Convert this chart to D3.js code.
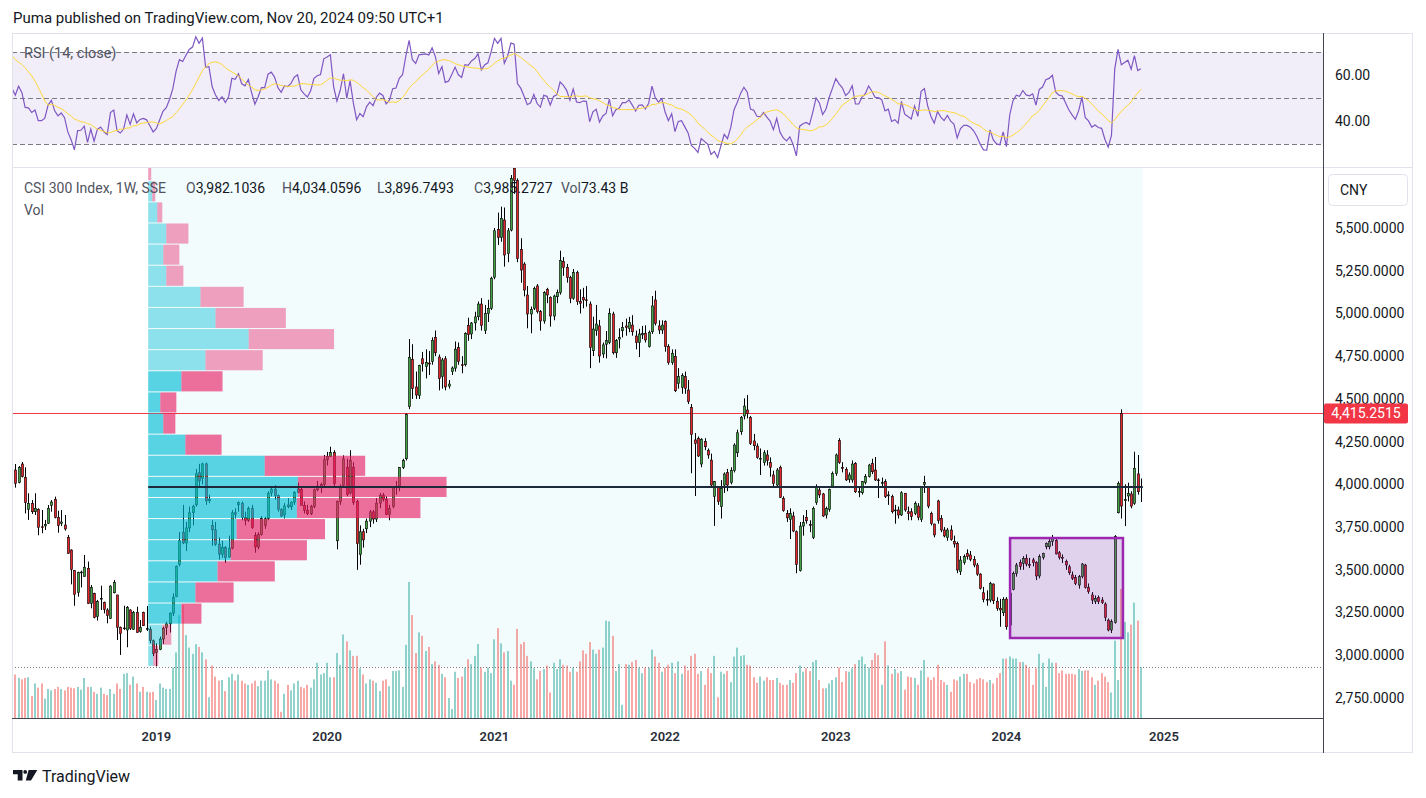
<!DOCTYPE html>
<html>
<head>
<meta charset="utf-8">
<script src="https://d3js.org/d3.v7.min.js"></script>
<style>
body { margin: 0; background: #fff; }
svg text { font-family: Roboto, "Noto Sans", sans-serif; }
</style>
</head>
<body>
<svg id="chart" width="1426" height="798"></svg>
<script>
// weekly CSI 300 bars, Feb 26 2018 .. Nov 18 2024 (holiday weeks without trading have no bar)
var opens = [
4084,4012,4119,4041,3854,3889,3840,3854,3752,3757,
3772,3877,3912,3807,3772,3762,3690,3616,3495,3368,
3485,3460,3509,3304,3362,3226,3330,3310,3265,3216,
3366,3353,3164,3158,3148,3265,3152,3251,3138,3251,
3154,3150,3085,3017,3035,3095,3163,3184,3247,3345,
3530,3720,3657,3745,3834,3880,4068,4034,4120,3904,
3760,3734,3650,3590,3630,3575,3627,3834,3880,3890,
3805,3790,3858,3700,3634,3706,3760,3800,3950,3972,
3935,3853,3820,3880,3869,3896,3952,3970,3877,3849,
3828,3871,3968,3990,4000,4144,4163,4186,3670,3899,
3995,4100,3950,4100,3900,3590,3723,3740,3785,3839,
3797,3890,3937,3913,3824,3870,3981,3990,4098,4150,
4455,4732,4570,4520,4735,4690,4710,4720,4860,4745,
4630,4735,4575,4660,4680,4800,4700,4700,4930,4880,
4945,4981,5055,4900,5000,5030,5212,5492,5445,5547,
5350,5488,5850,5777,5375,5289,5108,4997,5030,5161,
5011,4956,5141,5094,4985,5098,5122,5303,5270,5211,
5089,5239,5069,5094,5080,5055,4782,4900,4927,4763,
4820,4829,4997,4770,4850,4899,4927,4913,4932,4868,
4829,4875,4884,4806,4893,5079,4927,4903,4952,4806,
4712,4747,4591,4568,4630,4552,4451,4260,4269,4119,
4250,4197,4142,3930,3986,3870,3996,4069,4010,4080,
4185,4308,4400,4435,4392,4254,4224,4150,4127,4172,
4127,4055,3996,4100,3918,3830,3795,3815,3723,3495,
3756,3807,3765,3690,3893,3967,3944,3821,3854,3990,
4064,4256,4100,4088,4029,4026,4123,3957,3951,4010,
4045,4123,4084,4026,4010,4016,3933,3928,3850,3850,
3821,3947,3840,3840,3830,3873,3795,4000,3986,3830,
3768,3903,3801,3733,3690,3733,3665,3655,3489,3542,
3596,3587,3561,3528,3475,3366,3327,3323,3417,3316,
3275,3249,3329,3176,3386,3479,3542,3538,3567,3530,
3558,3542,3464,3573,3635,3635,3665,3671,3600,3573,
3548,3518,3470,3456,3411,3460,3528,3398,3353,3315,
3339,3323,3300,3206,3148,3191,3834,4415.2515,3905,3932,
3944,3889,4061,3982.1036];
var highs = [
4119,4107,4131,4100,3948,3908,3948,3860,3850,3792,
3879,3908,3928,3846,3850,3821,3704,3620,3499,3489,
3495,3587,3548,3411,3366,3324,3407,3314,3275,3409,
3440,3353,3168,3290,3288,3269,3259,3284,3206,3255,
3288,3167,3092,3070,3109,3167,3197,3250,3362,3525,
3721,3880,3780,3870,3880,4090,4120,4127,4127,3940,
3790,3780,3690,3670,3640,3700,3850,3860,3900,3900,
3840,3870,3880,3720,3720,3815,3810,3960,3990,3995,
3940,3860,3890,3920,3900,3960,4010,3980,3900,3880,
3880,3975,4020,4010,4172,4190,4220,4200,3905,4000,
4170,4150,4200,4130,3910,3760,3740,3800,3850,3850,
3920,3950,3950,3930,3880,3990,4020,4100,4150,4415,
4850,4820,4660,4700,4775,4790,4780,4860,4900,4760,
4740,4750,4610,4690,4836,4830,4750,4890,4975,4950,
5010,5070,5090,5050,5080,5215,5500,5590,5625,5620,
5500,5810,5900,5790,5440,5300,5161,5040,5157,5172,
5020,5130,5150,5100,5110,5140,5367,5330,5290,5220,
5260,5250,5141,5150,5160,5070,4981,5050,4962,4830,
4897,5030,5010,4850,4913,4950,4970,4980,4990,4900,
4910,4927,4930,4900,5102,5133,4960,4960,4960,4820,
4790,4790,4680,4650,4660,4610,4470,4300,4280,4270,
4270,4210,4180,4020,3990,4025,4070,4090,4100,4240,
4320,4400,4503,4523,4400,4295,4240,4210,4200,4200,
4158,4080,4095,4110,3930,3850,3860,3840,3730,3780,
3820,3850,3790,3870,4000,3990,3950,3870,3975,4075,
4180,4270,4130,4100,4070,4140,4130,3990,4020,4060,
4120,4150,4160,4035,4040,4030,3960,3940,3880,3870,
3960,3950,3870,3860,3900,3890,3990,4050,3990,3840,
3770,3910,3820,3750,3745,3760,3700,3665,3580,3590,
3620,3610,3580,3540,3480,3400,3380,3430,3420,3340,
3330,3340,3340,3370,3490,3540,3560,3580,3590,3570,
3570,3550,3590,3600,3660,3680,3704,3680,3610,3590,
3560,3530,3490,3470,3470,3540,3535,3420,3370,3350,
3350,3340,3310,3215,3210,3703,4017,4439,4000,4010,
3960,4191,4172,4034.0596];
var lows = [
3981,4006,4040,3830,3792,3827,3821,3702,3714,3733,
3768,3840,3801,3717,3756,3729,3593,3415,3290,3343,
3397,3460,3300,3275,3216,3203,3265,3245,3187,3212,
3362,3089,3002,3148,3047,3148,3148,3132,3132,3171,
3142,3070,2995,2935,3030,3066,3119,3133,3230,3340,
3520,3650,3610,3720,3760,3870,3990,4000,3880,3890,
3640,3640,3560,3570,3540,3570,3620,3800,3840,3790,
3760,3780,3740,3600,3620,3700,3740,3790,3930,3910,
3840,3810,3800,3860,3850,3880,3950,3880,3830,3820,
3820,3860,3960,3950,3990,4110,4160,3990,3620,3880,
3990,3930,3940,3880,3500,3530,3630,3715,3750,3770,
3780,3860,3900,3820,3790,3860,3940,3960,4090,4140,
4440,4500,4500,4500,4660,4620,4640,4700,4750,4550,
4560,4550,4560,4640,4660,4700,4650,4690,4840,4850,
4900,4960,4900,4880,4950,5020,5200,5400,5420,5274,
5300,5480,5700,5300,5180,5100,4913,4884,5020,5000,
4899,4940,5060,4923,4960,5060,5110,5220,5180,5060,
5080,5050,5000,5030,5040,4680,4751,4870,4712,4740,
4737,4820,4760,4740,4796,4860,4870,4890,4870,4790,
4745,4850,4830,4800,4880,4930,4880,4880,4776,4700,
4700,4540,4560,4530,4530,4470,4065,3932,4160,4100,
4200,4150,3990,3757,3880,3800,3950,3960,4000,4070,
4160,4290,4380,4386,4230,4200,4150,4055,4110,4110,
4045,3990,3980,3920,3840,3780,3680,3720,3480,3490,
3700,3770,3720,3680,3880,3920,3810,3800,3840,3980,
4050,4120,4070,4020,4010,4010,3950,3925,3940,4000,
4040,4060,4020,3920,3990,3920,3880,3830,3770,3800,
3815,3840,3790,3790,3820,3790,3780,3950,3860,3760,
3690,3770,3720,3690,3670,3670,3630,3480,3470,3530,
3560,3550,3515,3465,3385,3310,3290,3310,3300,3260,
3167,3230,3150,3105,3380,3460,3500,3500,3520,3510,
3520,3440,3450,3560,3620,3620,3640,3590,3560,3540,
3500,3470,3440,3410,3390,3450,3390,3360,3300,3300,
3300,3300,3200,3140,3130,3185,3830,3800,3756,3900,
3860,3880,3940,3896.7493];
var closes = [
4006,4100,4045,3893,3889,3840,3860,3749,3749,3766,
3860,3897,3807,3760,3780,3739,3597,3503,3357,3485,
3487,3515,3304,3398,3222,3314,3333,3269,3232,3405,
3427,3164,3128,3160,3280,3156,3251,3134,3164,3173,
3156,3088,3011,3035,3095,3158,3184,3247,3338,3520,
3670,3657,3745,3834,3872,4062,4020,4120,3904,3913,
3734,3649,3592,3630,3571,3627,3834,3825,3893,3808,
3790,3858,3747,3634,3706,3800,3799,3948,3972,3935,
3853,3814,3874,3869,3896,3952,3973,3877,3849,3828,
3871,3968,3990,4000,4144,4163,4186,4004,3899,3987,
4149,3940,4139,3895,3653,3723,3675,3785,3839,3797,
3890,3937,3913,3824,3860,3981,3988,4098,4139,4410,
4743,4560,4523,4696,4705,4713,4704,4842,4770,4620,
4728,4570,4587,4681,4791,4720,4695,4882,4876,4944,
4980,5055,4930,5000,5030,5206,5484,5445,5557,5342,
5484,5790,5779,5322,5254,5137,4997,5024,5147,5011,
4956,5122,5108,4985,5102,5122,5309,5270,5211,5089,
5239,5069,5060,5079,5075,4802,4909,4938,4751,4816,
4841,5001,4770,4841,4860,4919,4919,4948,4893,4829,
4880,4883,4845,4890,5044,4942,4903,4932,4806,4712,
4767,4548,4630,4636,4562,4484,4293,4240,4166,4264,
4220,4172,3996,4016,3899,3977,4061,3996,4080,4230,
4302,4392,4458,4416,4240,4226,4158,4152,4185,4139,
4100,4006,4084,3924,3846,3804,3830,3727,3532,3756,
3776,3787,3762,3860,3987,3938,3815,3860,3971,4064,
4172,4127,4093,4026,4055,4119,3957,3958,4016,4045,
4113,4074,4026,4025,4010,3928,3938,3840,3850,3821,
3951,3850,3830,3811,3889,3807,3986,4010,3873,3772,
3704,3788,3733,3698,3733,3678,3651,3499,3557,3577,
3577,3561,3528,3475,3392,3327,3325,3421,3319,3275,
3265,3327,3167,3364,3479,3528,3519,3567,3534,3528,
3542,3464,3577,3596,3655,3665,3690,3593,3573,3568,
3528,3483,3450,3420,3460,3534,3398,3372,3323,3333,
3314,3308,3222,3148,3197,3694,4006,3873,3912,3947,
3873,4094,3957,3985.2727];
// weekly volume, billions
var volumes = [
63,58,56,58,59,32,50,44,50,28,
42,40,42,45,42,40,45,44,43,45,
41,58,45,45,38,35,44,35,33,42,
35,50,42,64,65,48,60,50,38,45,
38,37,38,26,50,44,42,42,73,95,
149,164,120,102,93,107,103,95,85,30,
76,60,54,55,39,59,64,54,63,54,
50,48,50,54,46,54,54,69,56,54,
50,9,35,48,40,50,54,45,43,48,
44,56,80,63,65,80,59,59,94,77,
121,111,98,90,90,72,63,50,56,54,
51,39,54,56,46,68,68,69,45,106,
197,149,94,124,119,97,103,78,82,77,
64,59,29,13,67,58,60,73,85,78,
90,107,73,67,73,65,114,130,108,95,
97,54,48,129,107,110,90,82,72,56,
68,71,76,37,80,71,85,77,76,67,
73,67,82,98,93,110,99,93,99,102,
141,140,119,68,78,19,78,77,81,84,
73,65,73,73,99,89,80,67,73,77,
80,65,82,64,76,69,90,93,64,68,
48,72,65,90,30,67,64,68,52,89,
102,90,91,77,76,59,51,60,54,59,
55,55,58,51,48,48,55,51,65,76,
67,72,68,81,84,55,43,43,50,55,
59,73,52,68,67,72,78,84,89,78,
73,84,94,91,48,111,76,64,71,65,
68,41,60,59,58,48,69,84,59,55,
59,77,55,52,48,38,56,54,60,64,
64,52,50,56,58,56,52,55,50,58,
65,86,86,89,86,86,81,81,77,72,
48,72,93,80,45,86,80,80,65,69,
64,64,64,63,71,68,69,69,59,48,
54,65,60,52,37,112,55,187,139,124,
135,167,141,73.43];
// closes before the first visible bar (only feed the RSI)
var warmupCloses = [3710,3735,3651,3730,3815,3822,3826,3830,3850,3837,
  3910,3930,4019,4024,4085,4100,4055,4006,3982,3980,
  4016,4031,4138,4225,4258,4382,4272,3840,4004,4071];

// fixed range volume profile: 24 rows, bottom to top
var profileUpVol =   [5,14,33,47,69,82,88,148,149,116,37,15,12,33,57,100,67,52,18,15,18,9,4,0];
var profileDownVol = [5,9,20,38,57,76,88,123,148,100,36,12,16,41,57,85,70,43,17,16,22,5,3,3];
var valueAreaRows = [2, 13];
var profileFirstBar = 41, profileLastBar = 343;

var priceTicks = [2750,3000,3250,3500,3750,4000,4250,4500,4750,5000,5250,5500];
var rsiTicks = [40, 60];
var rsiLevels = [30, 50, 70];
var yearTicks = [["2019",43],["2020",95],["2021",146],["2022",198],["2023",250],["2024",302],["2025",350]];
var priceLineValue = 4415.2515;
var zone = {fromBar: 303.1, toBar: 337.5, top: 3686, bottom: 3101};

var N = closes.length;
[opens, highs, lows, volumes].forEach(function(a) {
  if (a.length !== N) throw new Error("length mismatch " + a.length + " vs " + N);
});

var svg = d3.select("#chart");
var pane = {left: 12, right: 1323, top: 168, bottom: 718};
var rsiPane = {top: 33, bottom: 167};

var x = d3.scaleLinear().domain([0, N - 1]).range([15.3, 1141]);
var y = d3.scaleLinear().domain([2750, 5500]).range([698, 228]);
var yRsi = d3.scaleLinear().domain([30, 70]).range([144, 52]);
var yVol = d3.scaleLinear().domain([0, d3.max(volumes)]).range([718, 582]);

var UP = "#43a047", DOWN = "#e5262d";

var defs = svg.append("defs");
defs.append("clipPath").attr("id", "clipMain").append("rect")
  .attr("x", pane.left).attr("y", pane.top).attr("width", pane.right - pane.left).attr("height", pane.bottom - pane.top);
defs.append("clipPath").attr("id", "clipRsi").append("rect")
  .attr("x", pane.left).attr("y", rsiPane.top).attr("width", pane.right - pane.left).attr("height", rsiPane.bottom - rsiPane.top);

// header
svg.append("text").attr("x", 13).attr("y", 23).attr("font-size", 15).attr("fill", "#131722")
  .text("Puma published on TradingView.com, Nov 20, 2024 09:50 UTC+1");

// ---------- RSI pane ----------
var rp = svg.append("g").attr("clip-path", "url(#clipRsi)");
rp.append("rect").attr("x", pane.left).attr("width", pane.right - pane.left)
  .attr("y", yRsi(70)).attr("height", yRsi(30) - yRsi(70)).attr("fill", "rgba(126,87,194,0.1)");
rp.selectAll(".lvl").data(rsiLevels).enter().append("line")
  .attr("x1", pane.left).attr("x2", pane.right)
  .attr("y1", function(d) { return Math.round(yRsi(d)) + 0.5; })
  .attr("y2", function(d) { return Math.round(yRsi(d)) + 0.5; })
  .attr("stroke", "#787b86").attr("stroke-dasharray", "5,3").attr("stroke-width", 1);

var allC = warmupCloses.concat(closes);
var rsiAll = allC.map(function() { return null; });
var ag = 0, al = 0;
for (var k = 1; k < allC.length; k++) {
  var ch = allC[k] - allC[k - 1];
  var g = ch > 0 ? ch : 0, l = ch < 0 ? -ch : 0;
  if (k <= 14) { ag += g / 14; al += l / 14; }
  else { ag = (ag * 13 + g) / 14; al = (al * 13 + l) / 14; }
  if (k >= 14) rsiAll[k] = al === 0 ? 100 : 100 - 100 / (1 + ag / al);
}
var maAll = rsiAll.map(function(v, k) {
  if (k < 27) return null;
  return d3.mean(rsiAll.slice(k - 13, k + 1));
});
var off = warmupCloses.length;
var rsiPts = [], maPts = [];
for (var i = -2; i < N; i++) {
  rsiPts.push([i, rsiAll[i + off]]);
  maPts.push([i, maAll[i + off]]);
}
var rline = d3.line().defined(function(d) { return d[1] != null; })
  .x(function(d) { return x(d[0]); }).y(function(d) { return yRsi(d[1]); });
rp.append("path").datum(rsiPts).attr("d", rline).attr("fill", "none").attr("stroke", "#7e57c2").attr("stroke-width", 1.2);
rp.append("path").datum(maPts).attr("d", rline).attr("fill", "none").attr("stroke", "#fdd835").attr("stroke-width", 1);

svg.append("text").attr("x", 24).attr("y", 58).attr("font-size", 14.5).attr("fill", "#50535e").text("RSI (14, close)");

// ---------- main pane ----------
var mp = svg.append("g").attr("clip-path", "url(#clipMain)");

var profLow = d3.min(lows.slice(profileFirstBar, profileLastBar + 1));
var profHigh = d3.max(highs.slice(profileFirstBar, profileLastBar + 1));
var px0 = x(profileFirstBar - 0.5), px1 = x(profileLastBar + 0.5);

// profile range background
mp.append("rect").attr("x", px0).attr("width", px1 - px0)
  .attr("y", y(profHigh)).attr("height", y(profLow) - y(profHigh))
  .attr("fill", "rgba(0,188,212,0.05)");

// volume
var idx = d3.range(N);
function isUp(i) { return closes[i] >= opens[i]; }
mp.selectAll(".vol").data(idx).enter().append("rect")
  .attr("x", function(i) { return Math.round(x(i)) - 1; })
  .attr("width", 2)
  .attr("y", function(i) { return yVol(volumes[i]); })
  .attr("height", function(i) { return yVol(0) - yVol(volumes[i]); })
  .attr("fill", function(i) { return isUp(i) ? "rgba(38,166,154,0.5)" : "rgba(239,83,80,0.5)"; });

// last volume line
var lastVolY = Math.round(yVol(volumes[N - 1])) + 0.5;
mp.append("line").attr("x1", pane.left).attr("x2", pane.right).attr("y1", lastVolY).attr("y2", lastVolY)
  .attr("stroke", "#787b86").attr("stroke-dasharray", "1,2");

// price line
var plY = Math.round(y(priceLineValue)) + 0.5;
mp.append("line").attr("x1", pane.left).attr("x2", pane.right).attr("y1", plY).attr("y2", plY)
  .attr("stroke", "#f23645").attr("stroke-width", 1);

// candles
mp.selectAll(".wick").data(idx).enter().append("line")
  .attr("x1", function(i) { return Math.round(x(i)) + 0.5; })
  .attr("x2", function(i) { return Math.round(x(i)) + 0.5; })
  .attr("y1", function(i) { return y(highs[i]); })
  .attr("y2", function(i) { return y(lows[i]); })
  .attr("stroke", "#000").attr("stroke-width", 1);
mp.selectAll(".body").data(idx).enter().append("rect")
  .attr("x", function(i) { return Math.round(x(i)) - 0.6; })
  .attr("width", 2.2)
  .attr("y", function(i) { return y(Math.max(opens[i], closes[i])); })
  .attr("height", function(i) { return Math.max(0.8, Math.abs(y(opens[i]) - y(closes[i]))); })
  .attr("fill", function(i) { return isUp(i) ? UP : DOWN; })
  .attr("stroke", "#000").attr("stroke-width", 0.6);

// highlighted zone
mp.append("rect").attr("x", x(zone.fromBar)).attr("width", x(zone.toBar) - x(zone.fromBar))
  .attr("y", y(zone.top)).attr("height", y(zone.bottom) - y(zone.top))
  .attr("fill", "rgba(156,39,176,0.2)").attr("stroke", "#9c27b0").attr("stroke-width", 2.5);

// volume profile
var rows = profileUpVol.length;
var rowStep = (profHigh - profLow) / rows;
var totals = profileUpVol.map(function(u, r) { return u + profileDownVol[r]; });
var xp = d3.scaleLinear().domain([0, d3.max(totals)]).range([0, (px1 - px0) * 0.3]);
var prof = mp.append("g");
d3.range(rows).forEach(function(r) {
  var yt = y(profLow + (r + 1) * rowStep) + 0.5, yb = y(profLow + r * rowStep) - 0.5;
  var inVA = r >= valueAreaRows[0] && r <= valueAreaRows[1];
  var a = inVA ? 0.64 : 0.42;
  prof.append("rect").attr("x", px0).attr("y", yt).attr("height", yb - yt)
    .attr("width", xp(profileUpVol[r])).attr("fill", "rgba(0,188,212," + a + ")");
  prof.append("rect").attr("x", px0 + xp(profileUpVol[r])).attr("y", yt).attr("height", yb - yt)
    .attr("width", xp(profileDownVol[r])).attr("fill", "rgba(233,30,99," + a + ")");
});
var pocRow = totals.indexOf(d3.max(totals));
var pocY = y(profLow + (pocRow + 0.5) * rowStep);
mp.append("line").attr("x1", px0).attr("x2", px1).attr("y1", pocY).attr("y2", pocY)
  .attr("stroke", "#1c2a3a").attr("stroke-width", 2);

// legend
var fmt = d3.format(",.4f");
var legend = svg.append("text").attr("y", 193).attr("font-size", 14);
legend.append("tspan").attr("x", 24).attr("fill", "#50535e").text("CSI 300 Index, 1W, SSE");
var L = N - 1;
[["O", opens[L], 186], ["H", highs[L], 282], ["L", lows[L], 377], ["C", closes[L], 474]].forEach(function(p) {
  legend.append("tspan").attr("x", p[2]).attr("fill", "#50535e").text(p[0]);
  legend.append("tspan").attr("fill", "#131722").text(fmt(p[1]));
});
legend.append("tspan").attr("x", 561).attr("fill", "#50535e").text("Vol");
legend.append("tspan").attr("fill", "#131722").text(d3.format(".2f")(volumes[L]) + " B");
svg.append("text").attr("x", 24).attr("y", 215).attr("font-size", 14).attr("fill", "#50535e").text("Vol");

// ---------- frame and axes ----------
svg.append("rect").attr("x", 12.5).attr("y", 33.5).attr("width", 1400).attr("height", 719)
  .attr("fill", "none").attr("stroke", "#e0e3eb");
svg.append("line").attr("x1", 12).attr("x2", 1413).attr("y1", 167.5).attr("y2", 167.5).attr("stroke", "#e0e3eb");
svg.append("line").attr("x1", 1323.5).attr("x2", 1323.5).attr("y1", 33).attr("y2", 753).attr("stroke", "#434651");
svg.append("line").attr("x1", 12).attr("x2", 1323).attr("y1", 718.5).attr("y2", 718.5).attr("stroke", "#434651");

svg.selectAll(".pt").data(priceTicks).enter().append("text")
  .attr("x", 1335).attr("y", function(d) { return y(d); }).attr("dy", "0.35em")
  .attr("font-size", 14).attr("fill", "#131722").text(function(d) { return fmt(d); });
svg.selectAll(".rt").data(rsiTicks).enter().append("text")
  .attr("x", 1335).attr("y", function(d) { return yRsi(d); }).attr("dy", "0.35em")
  .attr("font-size", 14).attr("fill", "#131722").text(function(d) { return d3.format(".2f")(d); });

// price line label
svg.append("rect").attr("x", 1324).attr("y", y(priceLineValue) - 10).attr("width", 84).attr("height", 20)
  .attr("rx", 2).attr("fill", "#f23645");
svg.append("text").attr("x", 1366).attr("y", y(priceLineValue)).attr("dy", "0.35em").attr("text-anchor", "middle")
  .attr("font-size", 14).attr("fill", "#fff").text(fmt(priceLineValue));

// currency box
svg.append("rect").attr("x", 1328.5).attr("y", 174.5).attr("width", 79).attr("height", 31).attr("rx", 4)
  .attr("fill", "#fff").attr("stroke", "#e0e3eb");
svg.append("text").attr("x", 1340).attr("y", 190).attr("dy", "0.35em").attr("font-size", 14).attr("fill", "#131722").text("CNY");

// time axis
svg.selectAll(".yt").data(yearTicks).enter().append("text")
  .attr("x", function(d) { return x(d[1]); }).attr("y", 741).attr("text-anchor", "middle")
  .attr("font-size", 13).attr("font-weight", 600).attr("fill", "#2a2e39").text(function(d) { return d[0]; });

// footer logo
var logo = svg.append("g").attr("fill", "#131722");
logo.append("path").attr("d", "M13,770H22.5V780.5H17.7V774.3H13Z");
logo.append("circle").attr("cx", 25.2).attr("cy", 771.9).attr("r", 1.9);
logo.append("path").attr("d", "M28.6,770H37.3L31,780.5H25.8Z");
svg.append("text").attr("x", 42).attr("y", 782).attr("font-size", 16).attr("fill", "#131722").text("TradingView");
</script>
</body>
</html>
